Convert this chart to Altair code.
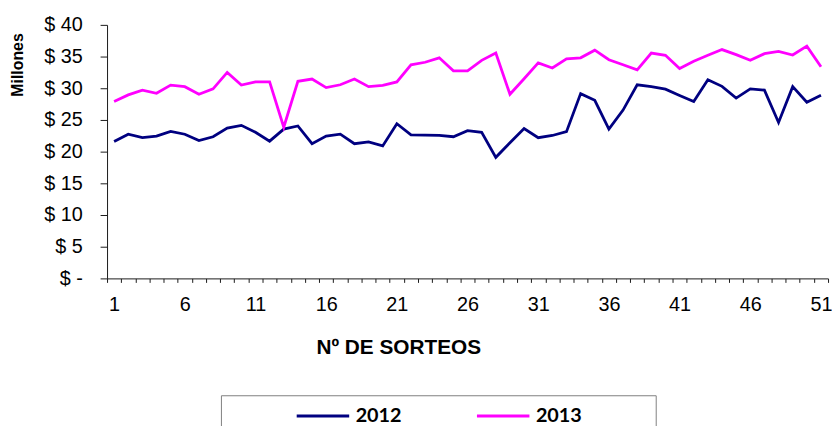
import altair as alt
import pandas as pd

sorteos = list(range(1, 52))
years = ["2012", "2013"]
v2012 = [21.6, 22.75, 22.2, 22.45, 23.2, 22.75, 21.75, 22.35, 23.7, 24.15,
         23.05, 21.65, 23.55, 24.05, 21.25, 22.45, 22.75, 21.25, 21.55, 20.9,
         24.4, 22.65, 22.6, 22.55, 22.35, 23.3, 23.05, 19.1, 21.4, 23.65,
         22.2, 22.55, 23.15, 29.15, 28.1, 23.55, 26.55, 30.55, 30.25, 29.85,
         28.85, 27.9, 31.35, 30.3, 28.45, 29.9, 29.7, 24.6, 30.25, 27.8, 28.9]
v2013 = [27.9, 28.95, 29.7, 29.2, 30.5, 30.25, 29.05, 29.9, 32.5, 30.5,
         31.0, 31.0, 23.85, 31.1, 31.45, 30.1, 30.55, 31.45, 30.25, 30.45,
         31.0, 33.7, 34.1, 34.8, 32.75, 32.75, 34.4, 35.55, 29.05, 31.5,
         34.0, 33.2, 34.65, 34.8, 36.0, 34.5, 33.7, 32.9, 35.55, 35.2,
         33.1, 34.25, 35.2, 36.1, 35.3, 34.4, 35.45, 35.8, 35.25, 36.65, 33.4]
y_ticks = [0, 5, 10, 15, 20, 25, 30, 35, 40]
colors = ["#000080", "#FF00FF"]

df = pd.DataFrame({
    "sorteo": sorteos * 2,
    "valor": v2012 + v2013,
    "anio": [years[0]] * len(v2012) + [years[1]] * len(v2013),
})

axis_color = "#1a1a1a"
spacer = "\u00a0" * 13 + "\u200b"

chart = alt.Chart(df).mark_line(strokeWidth=2.8).encode(
    x=alt.X(
        "sorteo:O",
        bandPosition=0.5,
        scale=alt.Scale(type="band", paddingInner=0, paddingOuter=0),
        axis=alt.Axis(
            title="Nº DE SORTEOS",
            tickBand="extent",
            labelExpr="(datum.value - 1) % 5 == 0 ? datum.label : ''",
            labelAngle=0,
            labelFont="Liberation Sans",
            labelFontSize=20,
            labelColor="black",
            labelPadding=12,
            tickSize=4,
            tickColor=axis_color,
            domainColor=axis_color,
            grid=False,
            titleFont="Liberation Sans",
            titleFontSize=21,
            titleFontWeight="bold",
            titleColor="black",
            titleX=294,
            titleY=70,
            titleAlign="center",
            titleBaseline="middle",
        ),
    ),
    y=alt.Y(
        "valor:Q",
        scale=alt.Scale(domain=[0, 40], nice=False),
        axis=alt.Axis(
            title="Millones",
            values=y_ticks,
            labelExpr="datum.value == 0 ? '$ -' : '$ ' + datum.value",
            labelFont="Liberation Sans",
            labelFontSize=20,
            labelColor="black",
            labelPadding=18,
            tickSize=7,
            tickColor=axis_color,
            domainColor=axis_color,
            grid=False,
            titleFont="Liberation Sans",
            titleFontSize=16,
            titleFontWeight="bold",
            titleColor="black",
            titleAngle=270,
            titleX=-90,
            titleY=40,
            titleAlign="center",
            titleBaseline="middle",
        ),
    ),
    color=alt.Color(
        "anio:N",
        scale=alt.Scale(domain=years, range=colors),
        legend=alt.Legend(
            title="0000000",
            titleOrient="left",
            titleOpacity=0,
            titleFont="Liberation Sans",
            titleFontSize=16,
            titleFontWeight="normal",
            titlePadding=1,
            orient="none",
            legendX=115,
            legendY=374,
            direction="horizontal",
            padding=11,
            strokeColor="#7f7f7f",
            symbolType="stroke",
            symbolSize=2809,
            symbolStrokeWidth=3,
            clipHeight=20,
            labelFont="Lato",
            labelFontSize=20,
            labelFontWeight="bold",
            labelColor="black",
            labelOffset=5,
            columnPadding=74,
            labelExpr="datum.label == '2013' ? datum.label + '" + spacer + "' : datum.label",
        ),
    ),
).properties(
    width=728,
    height=256,
    autosize=alt.AutoSizeParams(type="none"),
    padding={"left": 100, "top": 15, "right": 4, "bottom": 147},
).configure_view(stroke=None)

chart.save("out.html", embed_options={"renderer": "svg", "actions": False})
